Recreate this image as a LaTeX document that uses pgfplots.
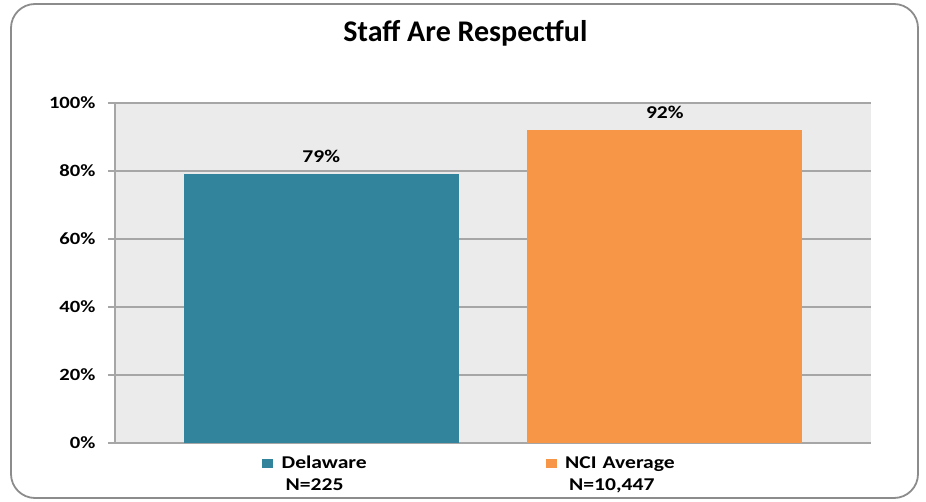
\documentclass[border=0pt]{standalone}
\usepackage{pgfplots}
\pgfplotsset{compat=1.18}
\usepackage{fontspec}
\setmainfont{Carlito}[FakeStretch=1.2]
\newfontfamily\titlefont{Carlito}
\definecolor{delc}{HTML}{31849B}
\definecolor{ncic}{HTML}{F79646}
\definecolor{gridc}{HTML}{A6A6A6}
\definecolor{framec}{HTML}{8C8C8C}
\definecolor{plotbg}{HTML}{EBEBEB}
\begin{document}
\begin{tikzpicture}
\useasboundingbox (0pt,0pt) rectangle (926pt,501pt);
\draw[framec, line width=1.8pt, rounded corners=24pt] (11pt,3pt) rectangle (918pt,497pt);
\begin{axis}[
  at={(115pt,58pt)}, anchor=south west,
  scale only axis, width=756pt, height=340pt,
  xmin=0.4, xmax=2.6, ymin=0, ymax=100,
  ybar, bar width=0.8,
  axis background/.style={fill=plotbg},
  axis x line*=bottom, axis y line*=left,
  axis line style={gridc, line width=1.2pt},
  ytick={0,20,...,100}, xtick=\empty,
  ymajorgrids, grid style={gridc, line width=1.2pt},
  tick style={gridc, line width=1.2pt}, major tick length=7pt, tick align=outside,
  yticklabel={\pgfmathprintnumber{\tick}\%},
  yticklabel style={font=\fontsize{17.2}{20}\selectfont\bfseries, black, xshift=-9pt},
  /pgf/number format/assume math mode=true,
  nodes near coords={\pgfmathprintnumber{\pgfplotspointmeta}\%},
  nodes near coords style={font=\fontsize{18}{21}\selectfont\bfseries, black, anchor=base, yshift=12pt},
  title={Staff Are Respectful},
  title style={at={(0.4635,1.162)}, anchor=base, font=\titlefont\fontsize{30}{36}\selectfont\bfseries},
  legend columns=2,
  legend style={draw=none, fill=none, inner sep=0pt, at={(0.1944,-0.038)}, anchor=north west,
    font=\fontsize{18}{21.7}\selectfont\bfseries,
    nodes={text width=264pt, align=left, inner sep=0pt},
    /tikz/every odd column/.append style={column sep=8.5pt},
    /tikz/every even column/.append style={column sep=0pt}},
]
\addplot[fill=delc, draw=none, bar shift=0pt,
  legend image code/.code={\fill[delc] (0pt,-5pt) rectangle (11pt,4.5pt);}]
  coordinates {(1,79)};
\addlegendentry{Delaware\\\hspace*{4pt}N=225}
\addplot[fill=ncic, draw=none, bar shift=0pt,
  legend image code/.code={\fill[ncic] (0pt,-5pt) rectangle (11pt,4.5pt);}]
  coordinates {(2,92)};
\addlegendentry{NCI Average\\\hspace*{4pt}N=10,447}
\end{axis}
\end{tikzpicture}
\end{document}
